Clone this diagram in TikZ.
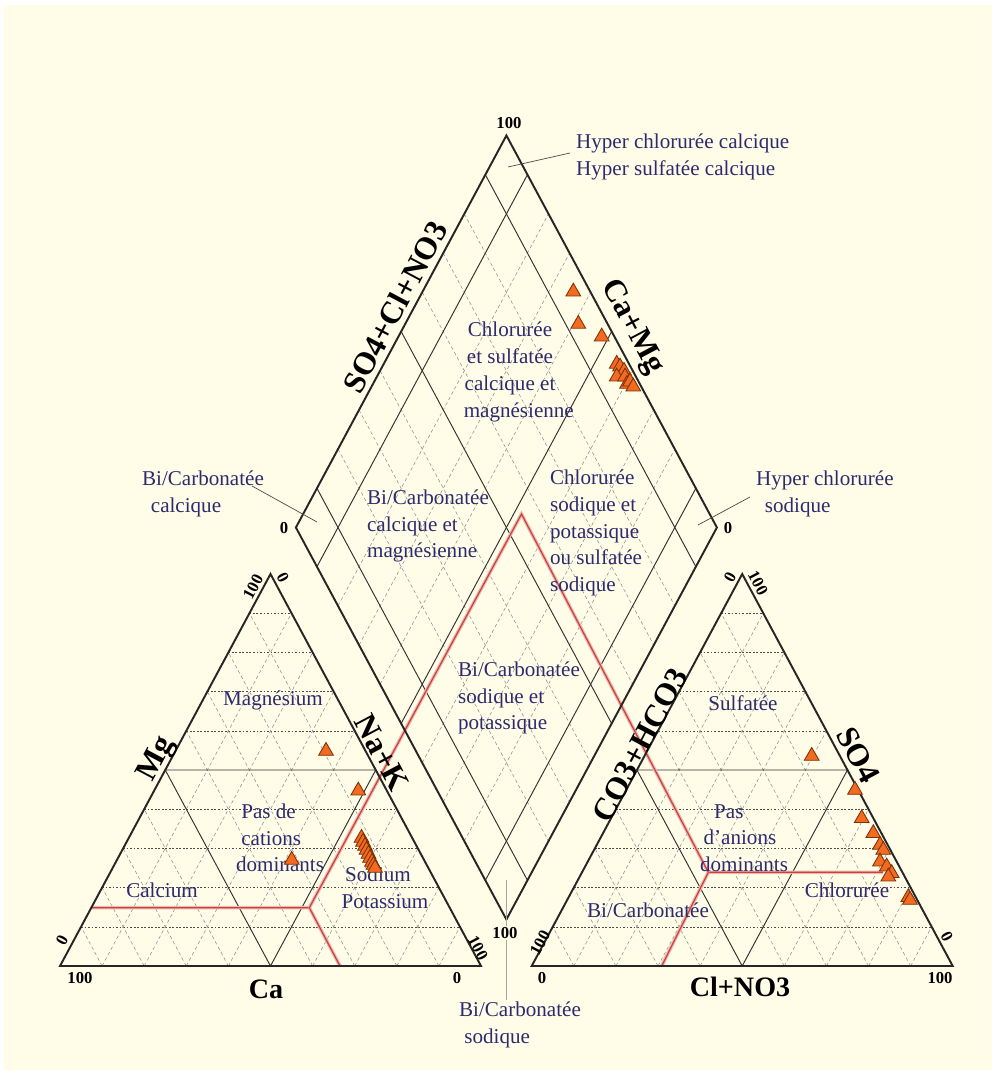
\documentclass[tikz,border=0pt]{standalone}
\usepackage{fontspec}
\setmainfont{Liberation Serif}
\usetikzlibrary{calc,shapes.geometric}
\definecolor{cream}{HTML}{FFFDE8}
\definecolor{navy}{HTML}{2D2B6E}
\definecolor{dotorange}{HTML}{F26B21}
\definecolor{dotbrown}{HTML}{7E3208}
\definecolor{fieldred}{HTML}{C8433F}
\definecolor{fieldrose}{HTML}{EDB8B0}

\begin{document}
\begin{tikzpicture}[x=0.02cm,y=-0.02cm,line cap=butt]
  \tikzstyle{rim}=[line width=1.1pt,black!85,line join=miter];
  \tikzstyle{midline}=[line width=0.55pt,black!80];
  \tikzstyle{hgrid}=[line width=0.35pt,black!70,dash pattern=on 1pt off 1pt];
  \tikzstyle{dgrid}=[line width=0.3pt,black!45,dash pattern=on 2pt off 1.5pt];
  \tikzstyle{redline}=[draw=fieldred,line width=0.7pt,preaction={draw=fieldrose,line width=2pt}];
  \tikzstyle{leader}=[line width=0.4pt,black!70];
  \tikzstyle{zone}=[text=navy,font=\fontsize{12}{15.2}\selectfont,inner sep=1pt];
  \tikzstyle{axlab}=[font=\fontsize{16}{18}\selectfont\bfseries,inner sep=0pt];
  \tikzstyle{rotlab}=[font=\fontsize{18}{20}\selectfont\bfseries,inner sep=0pt];
  \tikzstyle{ticklab}=[font=\fontsize{9.5}{10}\selectfont\bfseries,inner sep=1pt];
  \tikzstyle{obs}=[regular polygon,regular polygon sides=3,draw=dotbrown,fill=dotorange,line width=0.5pt,inner sep=0pt,minimum size=0.34cm];

  % page
  \useasboundingbox (0,0) rectangle (992,1070);
  \fill[cream] (4,5) rectangle (992,1070);

  % corners
  \coordinate (A) at (60,966);
  \coordinate (B) at (481,966);
  \coordinate (C) at (270.5,574);
  \coordinate (D) at (531.7,966);
  \coordinate (E) at (952.7,966);
  \coordinate (F) at (742.2,574);
  \coordinate (L) at (295.9,527.5);
  \coordinate (P) at (506.4,919.5);
  \coordinate (R) at (716.9,527.5);
  \coordinate (T) at (506.4,135.5);

  % triangle grids
  \foreach \a/\b/\c in {A/B/C,D/E/F} {
    \foreach \k in {1,2,3,4,6,7,8,9} {
      \draw[dgrid] ($(\a)!\k/10!(\b)$) -- ($(\a)!\k/10!(\c)$);
      \draw[dgrid] ($(\b)!\k/10!(\a)$) -- ($(\b)!\k/10!(\c)$);
      \draw[hgrid] ($(\a)!\k/10!(\c)$) -- ($(\b)!\k/10!(\c)$);
    }
    \draw[midline] ($(\a)!.5!(\b)$) -- ($(\a)!.5!(\c)$) -- ($(\b)!.5!(\c)$) -- cycle;
  }

  % diamond grid
  \foreach \k in {2,3,4,6,7,8} {
    \draw[dgrid] ($(L)!\k/10!(T)$) -- ($(P)!\k/10!(R)$);
    \draw[dgrid] ($(L)!\k/10!(P)$) -- ($(T)!\k/10!(R)$);
  }
  \foreach \k in {1,5,9} {
    \draw[midline] ($(L)!\k/10!(T)$) -- ($(P)!\k/10!(R)$);
    \draw[midline] ($(L)!\k/10!(P)$) -- ($(T)!\k/10!(R)$);
  }

  % field limits
  \coordinate (ra) at (91.3,907.7);
  \coordinate (rb) at (309.3,907.7);
  \coordinate (rc) at (340,966);
  \coordinate (rd) at (521.5,514);
  \coordinate (re) at (708.3,872.3);
  \coordinate (rf) at (883,872.3);
  \coordinate (rg) at (661.7,966);
  \draw[redline] (ra) -- (rb) -- (rc);
  \draw[redline] (rb) -- (rd) -- (re) -- (rf);
  \draw[redline] (re) -- (rg);

  % outlines
  \draw[rim] (A) -- (B) -- (C) -- cycle;
  \draw[rim] (D) -- (E) -- (F) -- cycle;
  \draw[rim] (L) -- (P) -- (R) -- (T) -- cycle;

  % axis names
  \node[axlab] (nca) at (266,989) {Ca};
  \node[axlab] (ncl) at (740,987) {Cl+NO3};
  \node[rotlab,rotate=62] (nmg) at (157,759) {Mg};
  \node[rotlab,rotate=-62] (nna) at (382,753) {Na+K};
  \node[rotlab,rotate=62] (nco) at (640,745) {CO3+HCO3};
  \node[rotlab,rotate=-62] (nso) at (858,755) {SO4};
  \node[rotlab,rotate=62] (nscn) at (395,307) {SO4+Cl+NO3};
  \node[rotlab,rotate=-62] (ncm) at (632,327) {Ca+Mg};

  % scale marks
  \node[ticklab] (ta1) at (80,978) {100};
  \node[ticklab] (ta2) at (457,978) {0};
  \node[ticklab,rotate=62] (ta3) at (62,940) {0};
  \node[ticklab,rotate=62] (ta4) at (253,587) {100};
  \node[ticklab,rotate=-62] (ta5) at (283,578) {0};
  \node[ticklab,rotate=-62] (ta6) at (478,948) {100};
  \node[ticklab] (tb1) at (542,978) {0};
  \node[ticklab] (tb2) at (940,978) {100};
  \node[ticklab,rotate=62] (tb3) at (540,943) {100};
  \node[ticklab,rotate=62] (tb4) at (730,577) {0};
  \node[ticklab,rotate=-62] (tb5) at (758,583) {100};
  \node[ticklab,rotate=-62] (tb6) at (947,937) {0};
  \node[ticklab] (tc1) at (509,123) {100};
  \node[ticklab] (tc2) at (284,528) {0};
  \node[ticklab] (tc3) at (728,528) {0};

  % facies names
  \node[zone] (mag) at (273,700) {Magnésium};
  \node[zone,align=left,anchor=west] (pdc) at (234,838) {\hspace{3pt}Pas de\\\hspace{3pt}cations\\dominants};
  \node[zone] (cal) at (162,890) {Calcium};
  \node[zone,align=center] (sod) at (378,888) {Sodium\\\hspace{8pt}Potassium};
  \node[zone] (sul) at (743,703) {Sulfatée};
  \node[zone,align=left,anchor=west] (pda) at (698,838) {\hspace{8pt}Pas\\\hspace{2pt}d'anions\\dominants};
  \node[zone] (chl) at (847,890) {Chlorurée};
  \node[zone] (bic) at (648,910) {Bi/Carbonatée};
  \node[zone,align=center] (csm) at (510,372) {Chlorurée\\et sulfatée\\calcique et\\\hspace{10pt}magnésienne};
  \node[zone,align=left,anchor=west] (bcm) at (365,526) {Bi/Carbonatée\\calcique et\\magnésienne};
  \node[zone,align=left,anchor=west] (csp) at (548,533) {Chlorurée\\sodique et\\potassique\\ou sulfatée\\sodique};
  \node[zone,align=left,anchor=west] (bsp) at (456,698) {Bi/Carbonatée\\sodique et\\potassique};

  % outer facies and leaders
  \node[zone,align=left,anchor=west] (hcc) at (574,157) {Hyper chlorurée calcique\\Hyper sulfatée calcique};
  \node[zone,align=left,anchor=west] (bcc) at (140,494) {Bi/Carbonatée\\\hspace{5pt}calcique};
  \node[zone,align=left,anchor=west] (hcs) at (754,494) {Hyper chlorurée\\\hspace{5pt}sodique};
  \node[zone,align=left,anchor=north west] (bcs) at (457,1000) {Bi/Carbonatée\\\hspace{3pt}sodique};
  \coordinate (hcctip) at (508,167);
  \coordinate (bcctip) at (317,522);
  \coordinate (hcstip) at (698,525);
  \coordinate (bcstip) at (506.4,880);
  \draw[leader] (hcctip) -- ($(hcc.west)+(-4,-4)$);
  \draw[leader] ($(bcc.east)+(-14,-8)$) -- (bcctip);
  \draw[leader] ($(hcs.west)+(-4,3)$) -- (hcstip);
  \draw[leader,black!35,line width=0.6pt] (bcstip) -- (bcs.north -| bcstip);
  \node[ticklab,fill=cream] (tc4) at (505,933) {100};

  % samples
  \foreach \x/\y [count=\i] in {326/751, 358.3/790.7, 291.7/860, 361.5/838, 363/842, 365/846, 366.5/850, 368.5/854, 370/858, 372/862, 373.5/865, 375/868}
    \node[obs] (sa\i) at (\x,\y) {};
  \foreach \x/\y [count=\i] in {811.7/756, 855/790, 861.7/818.3, 873.3/833.3, 880/845, 883.3/850, 880/861.7, 886.7/866.7, 891.7/873.3, 888.3/876.7, 908.3/897.3, 910/900}
    \node[obs] (sb\i) at (\x,\y) {};
  \foreach \x/\y [count=\i] in {573.3/291.7, 578.3/324, 601.7/336.7, 616.7/364, 620/366.7, 624/371, 616.7/376.7, 625/376.7, 627/384, 630/381.7, 633.3/386.7}
    \node[obs] (sc\i) at (\x,\y) {};
\end{tikzpicture}
\end{document}
